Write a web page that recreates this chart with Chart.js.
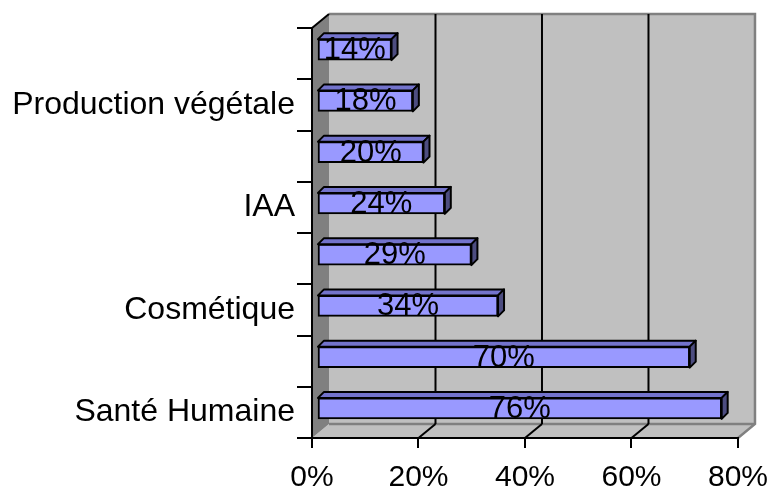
<!DOCTYPE html>
<html>
<head>
<meta charset="utf-8">
<style>
  html, body { margin: 0; padding: 0; background: #fff; }
</style>
<script src="https://cdn.jsdelivr.net/npm/chart.js@4"></script>
</head>
<body>
<canvas id="chart" width="780" height="490"></canvas>
<script>
"use strict";
// bottom to top, as in the picture (only every other category is labelled)
const categories = ["Santé Humaine", "", "Cosmétique", "", "IAA", "", "Production végétale", ""];
const values = [76, 70, 34, 29, 24, 20, 18, 14];
const xTicks = [0, 20, 40, 60, 80];

const FONT = "'Liberation Sans', Arial, sans-serif";
const DX = 17, DY = -14;   // depth of the 3d box
const BX = 5, BY = -4;     // bars sit a bit inside the box
const BD = 6;              // depth of a bar

const box3d = {
  id: "box3d",
  beforeDraw(chart) {
    const { ctx, chartArea: a, scales: { x } } = chart;
    ctx.save();
    // back wall
    ctx.fillStyle = "#c0c0c0";
    ctx.fillRect(a.left + DX, a.top + DY, a.width, a.height);
    // floor
    ctx.beginPath();
    ctx.moveTo(a.left, a.bottom);
    ctx.lineTo(a.right, a.bottom);
    ctx.lineTo(a.right + DX, a.bottom + DY);
    ctx.lineTo(a.left + DX, a.bottom + DY);
    ctx.closePath();
    ctx.fill();
    // wall outline
    ctx.strokeStyle = "#808080";
    ctx.lineWidth = 2.5;
    ctx.beginPath();
    ctx.moveTo(a.left + DX, a.top + DY);
    ctx.lineTo(a.right + DX, a.top + DY);
    ctx.lineTo(a.right + DX, a.bottom + DY);
    ctx.lineTo(a.right, a.bottom);
    ctx.moveTo(a.left + DX, a.bottom + DY);
    ctx.lineTo(a.right + DX, a.bottom + DY);
    ctx.stroke();
    // grid lines on the wall and floor
    ctx.strokeStyle = "#000";
    xTicks.forEach((v) => {
      if (v === xTicks[0] || v === xTicks[xTicks.length - 1]) return;
      const px = x.getPixelForValue(v);
      ctx.lineWidth = 2;
      ctx.beginPath();
      ctx.moveTo(px + DX, a.top + DY);
      ctx.lineTo(px + DX, a.bottom + DY);
      ctx.stroke();
      ctx.beginPath();
      ctx.moveTo(px, a.bottom);
      ctx.lineTo(px + DX, a.bottom + DY);
      ctx.stroke();
    });
    // side wall
    ctx.fillStyle = "#808080";
    ctx.beginPath();
    ctx.moveTo(a.left, a.top);
    ctx.lineTo(a.left + DX, a.top + DY);
    ctx.lineTo(a.left + DX, a.bottom + DY);
    ctx.lineTo(a.left, a.bottom);
    ctx.closePath();
    ctx.fill();
    ctx.strokeStyle = "#000";
    ctx.lineWidth = 2;
    ctx.beginPath();
    ctx.moveTo(a.left, a.top);
    ctx.lineTo(a.left + DX, a.top + DY);
    ctx.stroke();
    ctx.restore();
  },
  beforeDatasetsDraw(chart) {
    chart.ctx.save();
    chart.ctx.translate(BX, BY);
  },
  afterDatasetsDraw(chart) {
    const ctx = chart.ctx;
    const bars = chart.getDatasetMeta(0).data;
    ctx.lineWidth = 2;
    ctx.strokeStyle = "#000";
    ctx.lineJoin = "round";
    bars.forEach((bar) => {
      const { x, y, base, height } = bar.getProps(["x", "y", "base", "height"], true);
      const t = y - height / 2, b = y + height / 2;
      // top face
      ctx.fillStyle = "#7373cc";
      ctx.beginPath();
      ctx.moveTo(base, t);
      ctx.lineTo(base + BD, t - BD);
      ctx.lineTo(x + BD, t - BD);
      ctx.lineTo(x, t);
      ctx.closePath();
      ctx.fill();
      ctx.stroke();
      // side face
      ctx.fillStyle = "#4d4d80";
      ctx.beginPath();
      ctx.moveTo(x, t);
      ctx.lineTo(x + BD, t - BD);
      ctx.lineTo(x + BD, b - BD);
      ctx.lineTo(x, b);
      ctx.closePath();
      ctx.fill();
      ctx.stroke();
    });
    // value labels
    ctx.fillStyle = "#000";
    ctx.font = "31px " + FONT;
    ctx.textAlign = "center";
    ctx.textBaseline = "middle";
    bars.forEach((bar, i) => {
      const { x, y, base } = bar.getProps(["x", "y", "base"], true);
      ctx.fillText(values[i] + "%", (x + base) / 2, y + 1);
    });
    ctx.restore();
  },
};

new Chart(document.getElementById("chart"), {
  type: "bar",
  data: {
    labels: categories,
    datasets: [
      {
        data: values,
        backgroundColor: "#9999ff",
        borderColor: "#000",
        borderWidth: 2,
        borderSkipped: false,
        barThickness: 21,
        clip: false,
      },
    ],
  },
  options: {
    indexAxis: "y",
    responsive: false,
    animation: false,
    devicePixelRatio: 1,
    layout: { padding: { top: 28, right: 35, bottom: 0, left: 0 } },
    plugins: { legend: { display: false }, tooltip: { enabled: false } },
    scales: {
      x: {
        min: 0,
        max: 80,
        afterBuildTicks: (scale) => {
          scale.ticks = xTicks.map((v) => ({ value: v }));
        },
        afterFit: (scale) => {
          scale.height = 52;
        },
        grid: { drawOnChartArea: false, drawTicks: true, tickLength: 10, color: "#000", lineWidth: 2 },
        border: { display: true, color: "#000", width: 2 },
        ticks: {
          color: "#000",
          padding: 12,
          maxRotation: 0,
          font: { family: FONT, size: 30, lineHeight: 1.2 },
          callback: (v) => v + "%",
        },
      },
      y: {
        reverse: true,
        afterFit: (scale) => {
          scale.width = 312;
        },
        grid: { drawOnChartArea: false, drawTicks: true, tickLength: 15, color: "#000", lineWidth: 2 },
        border: { display: true, color: "#000", width: 2 },
        ticks: {
          color: "#000",
          padding: 2,
          autoSkip: false,
          font: { family: FONT, size: 32 },
        },
      },
    },
  },
  plugins: [box3d],
});
</script>
</body>
</html>
